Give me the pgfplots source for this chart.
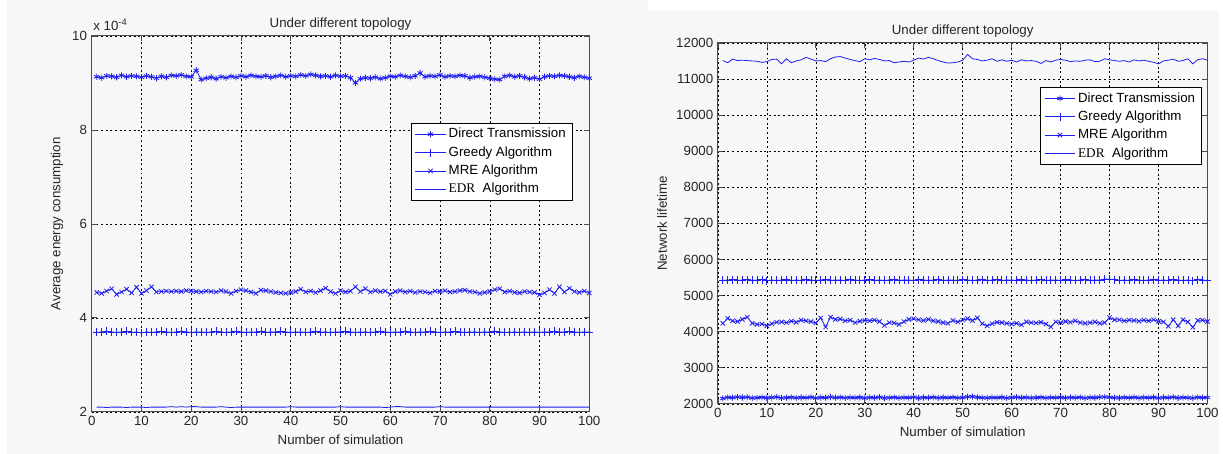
\documentclass[border=0pt]{standalone}
\usepackage{fontspec}
\setmainfont{Liberation Sans}
\newfontfamily\timesf{Liberation Serif}
\usepackage{pgfplots}
\usepackage{pgfplotstable}
\pgfplotsset{compat=1.18}

\definecolor{mblue}{RGB}{30,30,240}
\definecolor{bgc}{RGB}{247,247,247}

% left panel: average energy consumption (units of 1e-4)
\pgfplotstableread{
x dt gr mre edr
1 9.13 3.69 4.54 2.10
2 9.11 3.70 4.52 2.10
3 9.15 3.71 4.57 2.09
4 9.14 3.70 4.62 2.10
5 9.12 3.69 4.50 2.10
6 9.16 3.70 4.55 2.10
7 9.13 3.71 4.61 2.09
8 9.15 3.69 4.53 2.10
9 9.14 3.70 4.65 2.10
10 9.12 3.68 4.52 2.10
11 9.15 3.70 4.58 2.09
12 9.13 3.69 4.66 2.10
13 9.10 3.70 4.55 2.10
14 9.14 3.71 4.56 2.10
15 9.12 3.70 4.57 2.10
16 9.16 3.69 4.56 2.11
17 9.15 3.70 4.57 2.10
18 9.17 3.71 4.56 2.11
19 9.14 3.70 4.58 2.10
20 9.13 3.69 4.57 2.11
21 9.27 3.70 4.56 2.11
22 9.07 3.70 4.55 2.10
23 9.10 3.69 4.57 2.10
24 9.12 3.70 4.56 2.10
25 9.09 3.71 4.55 2.10
26 9.13 3.70 4.58 2.11
27 9.11 3.69 4.56 2.10
28 9.14 3.70 4.52 2.09
29 9.12 3.71 4.57 2.10
30 9.15 3.70 4.60 2.10
31 9.13 3.69 4.58 2.10
32 9.16 3.70 4.55 2.10
33 9.14 3.70 4.52 2.10
34 9.13 3.71 4.59 2.10
35 9.15 3.69 4.58 2.10
36 9.12 3.70 4.56 2.10
37 9.14 3.70 4.54 2.10
38 9.16 3.71 4.53 2.10
39 9.13 3.70 4.52 2.10
40 9.15 3.69 4.54 2.11
41 9.14 3.70 4.56 2.10
42 9.17 3.70 4.61 2.10
43 9.15 3.69 4.55 2.10
44 9.18 3.70 4.57 2.10
45 9.16 3.71 4.54 2.10
46 9.14 3.70 4.58 2.10
47 9.15 3.70 4.63 2.10
48 9.13 3.69 4.56 2.10
49 9.16 3.70 4.52 2.10
50 9.14 3.70 4.58 2.11
51 9.15 3.71 4.55 2.10
52 9.11 3.70 4.57 2.10
53 9.00 3.69 4.66 2.10
54 9.09 3.70 4.56 2.10
55 9.11 3.70 4.62 2.10
56 9.10 3.69 4.55 2.10
57 9.12 3.70 4.58 2.10
58 9.09 3.71 4.56 2.10
59 9.11 3.70 4.57 2.09
60 9.14 3.69 4.50 2.10
61 9.13 3.70 4.56 2.11
62 9.16 3.70 4.58 2.11
63 9.14 3.71 4.55 2.10
64 9.12 3.70 4.57 2.10
65 9.15 3.69 4.54 2.10
66 9.21 3.70 4.56 2.10
67 9.13 3.70 4.55 2.10
68 9.15 3.71 4.53 2.10
69 9.14 3.70 4.57 2.10
70 9.17 3.69 4.56 2.11
71 9.13 3.70 4.58 2.10
72 9.15 3.70 4.55 2.10
73 9.14 3.71 4.56 2.10
74 9.16 3.70 4.58 2.10
75 9.15 3.69 4.59 2.10
76 9.11 3.70 4.56 2.10
77 9.13 3.70 4.55 2.10
78 9.14 3.69 4.52 2.10
79 9.12 3.70 4.54 2.10
80 9.10 3.70 4.56 2.10
81 9.08 3.71 4.60 2.10
82 9.07 3.70 4.62 2.10
83 9.14 3.69 4.55 2.10
84 9.16 3.69 4.57 2.10
85 9.13 3.70 4.54 2.10
86 9.15 3.69 4.53 2.10
87 9.12 3.70 4.56 2.10
88 9.09 3.69 4.55 2.10
89 9.11 3.70 4.54 2.10
90 9.08 3.69 4.49 2.10
91 9.13 3.70 4.53 2.10
92 9.15 3.70 4.60 2.10
93 9.14 3.71 4.52 2.10
94 9.16 3.70 4.66 2.10
95 9.15 3.70 4.55 2.10
96 9.13 3.71 4.63 2.10
97 9.11 3.70 4.56 2.10
98 9.14 3.69 4.54 2.10
99 9.12 3.70 4.57 2.10
100 9.10 3.70 4.53 2.10
}\energy

% right panel: network lifetime
\pgfplotstableread{
x dt gr mre edr
1 2150 5420 4230 11510
2 2180 5430 4370 11450
3 2170 5440 4300 11550
4 2190 5420 4280 11510
5 2175 5430 4340 11520
6 2185 5440 4400 11510
7 2160 5420 4230 11500
8 2170 5430 4200 11490
9 2180 5440 4210 11460
10 2165 5410 4160 11480
11 2175 5430 4220 11540
12 2190 5420 4260 11550
13 2160 5430 4270 11420
14 2170 5440 4250 11560
15 2180 5420 4290 11450
16 2165 5430 4260 11500
17 2175 5420 4320 11530
18 2170 5440 4300 11600
19 2185 5430 4280 11550
20 2160 5420 4240 11500
21 2175 5430 4380 11510
22 2170 5440 4130 11480
23 2190 5420 4400 11560
24 2170 5430 4340 11610
25 2180 5430 4350 11620
26 2165 5420 4300 11580
27 2175 5440 4320 11540
28 2170 5430 4250 11510
29 2180 5420 4290 11480
30 2160 5430 4310 11560
31 2175 5440 4300 11530
32 2170 5420 4320 11570
33 2185 5430 4280 11540
34 2160 5420 4170 11500
35 2170 5430 4250 11510
36 2180 5440 4240 11450
37 2165 5420 4200 11470
38 2175 5430 4280 11490
39 2170 5430 4340 11470
40 2185 5420 4360 11520
41 2160 5440 4330 11580
42 2175 5430 4310 11550
43 2170 5420 4340 11600
44 2180 5430 4300 11560
45 2165 5440 4280 11510
46 2175 5420 4250 11470
47 2170 5430 4230 11440
48 2180 5430 4310 11450
49 2165 5420 4270 11470
50 2175 5440 4320 11520
51 2195 5430 4360 11680
52 2200 5420 4310 11560
53 2180 5430 4380 11540
54 2170 5440 4220 11500
55 2165 5420 4160 11520
56 2175 5430 4220 11560
57 2170 5440 4260 11490
58 2180 5420 4250 11530
59 2160 5430 4230 11490
60 2175 5430 4210 11520
61 2185 5420 4230 11470
62 2170 5440 4190 11530
63 2175 5430 4270 11500
64 2165 5420 4250 11510
65 2170 5430 4240 11490
66 2180 5440 4260 11430
67 2165 5420 4210 11510
68 2175 5430 4130 11470
69 2170 5430 4270 11520
70 2180 5420 4250 11540
71 2165 5440 4280 11520
72 2175 5430 4260 11480
73 2170 5420 4300 11500
74 2180 5430 4250 11490
75 2160 5440 4230 11520
76 2175 5420 4250 11530
77 2170 5430 4270 11480
78 2185 5430 4230 11490
79 2190 5460 4250 11560
80 2180 5450 4390 11530
81 2170 5440 4330 11510
82 2165 5420 4330 11490
83 2175 5430 4300 11510
84 2170 5420 4320 11470
85 2180 5440 4310 11530
86 2165 5430 4290 11500
87 2175 5420 4320 11520
88 2170 5430 4300 11490
89 2180 5440 4330 11460
90 2160 5420 4280 11420
91 2175 5430 4270 11500
92 2170 5420 4150 11520
93 2185 5440 4330 11550
94 2165 5430 4160 11490
95 2175 5420 4330 11510
96 2170 5430 4270 11560
97 2160 5410 4120 11420
98 2180 5440 4310 11530
99 2170 5430 4320 11560
100 2175 5420 4280 11520
}\lifetime

\pgfplotsset{
  mstyle/.style={
    scale only axis,
    clip mode=individual,
    xmin=0, xmax=100,
    xtick={0,10,...,100},
    scaled x ticks=false, scaled y ticks=false,
    grid=major,
    major grid style={black, line width=0.4pt, dash pattern=on 1.5pt off 2pt},
    tick align=inside,
    major tick length=4pt,
    axis line style={draw=black!70, line width=0.7pt},
    every tick/.style={black!70, line width=0.5pt},
    ticklabel style={font=\fontsize{10}{12}\selectfont, text=black!85},
    /pgf/number format/assume math mode=true,
    /pgf/number format/1000 sep={},
    label style={font=\fontsize{10}{12}\selectfont, text=black!85},
    title style={font=\fontsize{10}{12}\selectfont, text=black!85, yshift=-5pt},
    title={Under different topology},
    xlabel={Number of simulation},
    legend cell align=left,
    legend image code/.code={%
      \draw[mark repeat=2,mark phase=2] plot coordinates {(0cm,0cm) (0.4cm,0cm) (0.8cm,0cm)};},
    legend style={draw=black, line width=0.5pt, fill=white,
      font=\fontsize{10}{11}\selectfont, inner xsep=3pt, inner ysep=1.5pt,
      row sep=0pt, nodes={inner ysep=1.6pt, text height=8pt, text depth=2.6pt}},
    every axis plot/.append style={mblue, line width=0.6pt, mark options={solid}},
  },
  dtst/.style={mark=asterisk, mark size=2.3pt},
  grst/.style={mark=+, mark size=3pt},
  mrest/.style={mark=x, mark size=2.3pt},
  edrst/.style={no marks},
}

\begin{document}
\begin{tikzpicture}
\fill[bgc] (0,0) rectangle (917.25pt,341.25pt);
\fill[white] (0,0) rectangle (5pt,341.25pt);
\fill[white] (487.5pt,333.75pt) rectangle (917.25pt,341.25pt);

\begin{axis}[mstyle,
  at={(69pt,31.5pt)}, anchor=south west,
  width=374.25pt, height=282.75pt,
  ymin=2, ymax=10, ytick={2,4,6,8,10},
  ylabel={Average energy consumption},
  legend style={at={(0.641,0.769)}, anchor=north west},
]
\addplot[dtst] table[x=x, y=dt] {\energy};
\addplot[grst] table[x=x, y=gr] {\energy};
\addplot[mrest] table[x=x, y=mre] {\energy};
\addplot[edrst] table[x=x, y=edr] {\energy};
\legend{Direct Transmission, Greedy Algorithm, MRE Algorithm, {{\timesf EDR}\ \ Algorithm}}
\node[anchor=south west, inner sep=0pt, font=\fontsize{10}{12}\selectfont, text=black!85]
  at (rel axis cs:0,1) [xshift=1pt, yshift=4pt] {x 10\textsuperscript{-4}};
\end{axis}

\begin{axis}[mstyle,
  at={(540pt,37.5pt)}, anchor=south west,
  width=368.25pt, height=271.5pt,
  ymin=2000, ymax=12000, ytick={2000,3000,...,12000},
  ylabel={Network lifetime},
  legend style={at={(0.658,0.878)}, anchor=north west},
]
\addplot[dtst] table[x=x, y=dt] {\lifetime};
\addplot[grst] table[x=x, y=gr] {\lifetime};
\addplot[mrest] table[x=x, y=mre] {\lifetime};
\addplot[edrst] table[x=x, y=edr] {\lifetime};
\legend{Direct Transmission, Greedy Algorithm, MRE Algorithm, {{\timesf EDR}\ \ Algorithm}}
\end{axis}
\end{tikzpicture}
\end{document}
